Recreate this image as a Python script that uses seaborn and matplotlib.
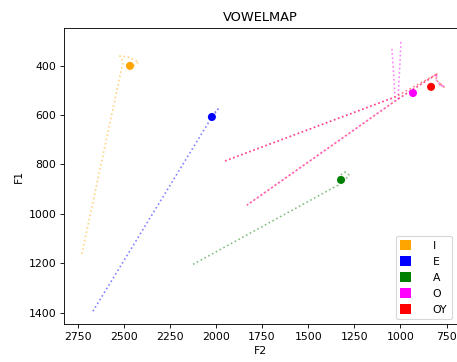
import matplotlib
matplotlib.use("Agg")
import matplotlib.pyplot as plt
from matplotlib.patches import Patch
import numpy as np
import pandas as pd
import seaborn as sns

# Vowel labels and their plotting colours
vowels = ["I", "E", "A", "O", "OY"]
colors = ["orange", "blue", "green", "magenta", "red"]

# Mean formant values per vowel (Hz)
mean_f2 = [2466, 2022, 1322, 932, 834]
mean_f1 = [401, 608, 863, 511, 486]

# Formant trajectories: vowel label, token id, F2 and F1 samples (Hz)
traj_vowel = (["I"] * 7 + ["E"] * 4 + ["A"] * 6
              + ["O"] * 3 + ["O"] * 3 + ["O"] * 5
              + ["OY"] * 6 + ["OY"] * 3)
traj_token = ([1] * 7 + [1] * 4 + [1] * 6
              + [1] * 3 + [2] * 3 + [3] * 5
              + [1] * 6 + [2] * 3)
traj_f2 = [2727, 2504, 2521, 2477, 2418, 2445, 2477,
           2667, 2032, 1989, 2005,
           2124, 1338, 1333, 1300, 1279, 1295,
           1046, 1029, 1951,
           997, 1013, 1832,
           1013, 802, 807, 764, 796,
           1951, 1029, 802, 807, 764, 796,
           1832, 1013, 802]
traj_f1 = [1163, 385, 361, 365, 385, 397, 381,
           1395, 620, 576, 588,
           1205, 884, 847, 831, 843, 859,
           332, 527, 786,
           304, 535, 965,
           535, 434, 458, 486, 474,
           786, 527, 434, 458, 486, 474,
           965, 535, 434]

traj = pd.DataFrame({"vowel": traj_vowel, "token": traj_token,
                     "F2": traj_f2, "F1": traj_f1})
means = pd.DataFrame({"vowel": vowels, "F2": mean_f2, "F1": mean_f1})
palette = dict(zip(vowels, colors))

DPI = 78
fig = plt.figure(figsize=(458 / DPI, 362 / DPI), dpi=DPI)
ax = fig.add_axes([0.140, 0.104, 0.858, 0.819])

sns.lineplot(data=traj, x="F2", y="F1", hue="vowel", units="token",
             estimator=None, sort=False, palette=palette, hue_order=vowels,
             linestyle=":", linewidth=1.5, alpha=0.5, legend=False, ax=ax)
sns.scatterplot(data=means, x="F2", y="F1", hue="vowel", palette=palette,
                hue_order=vowels, s=55, linewidth=0, legend=False, ax=ax,
                zorder=3)

ax.set_xlim(2823, 693)
ax.set_ylim(1448, 247)
ax.set_xticks([2750, 2500, 2250, 2000, 1750, 1500, 1250, 1000, 750])
ax.set_yticks([400, 600, 800, 1000, 1200, 1400])
ax.set_xlabel("F2")
ax.set_ylabel("F1")
ax.set_title("VOWELMAP")

handles = [Patch(facecolor=c, edgecolor="none", label=v)
           for v, c in zip(vowels, colors)]
ax.legend(handles=handles, loc="lower right", handlelength=1.0,
          handleheight=1.0, handletextpad=2.0)

fig.savefig("out.png", dpi=DPI)
